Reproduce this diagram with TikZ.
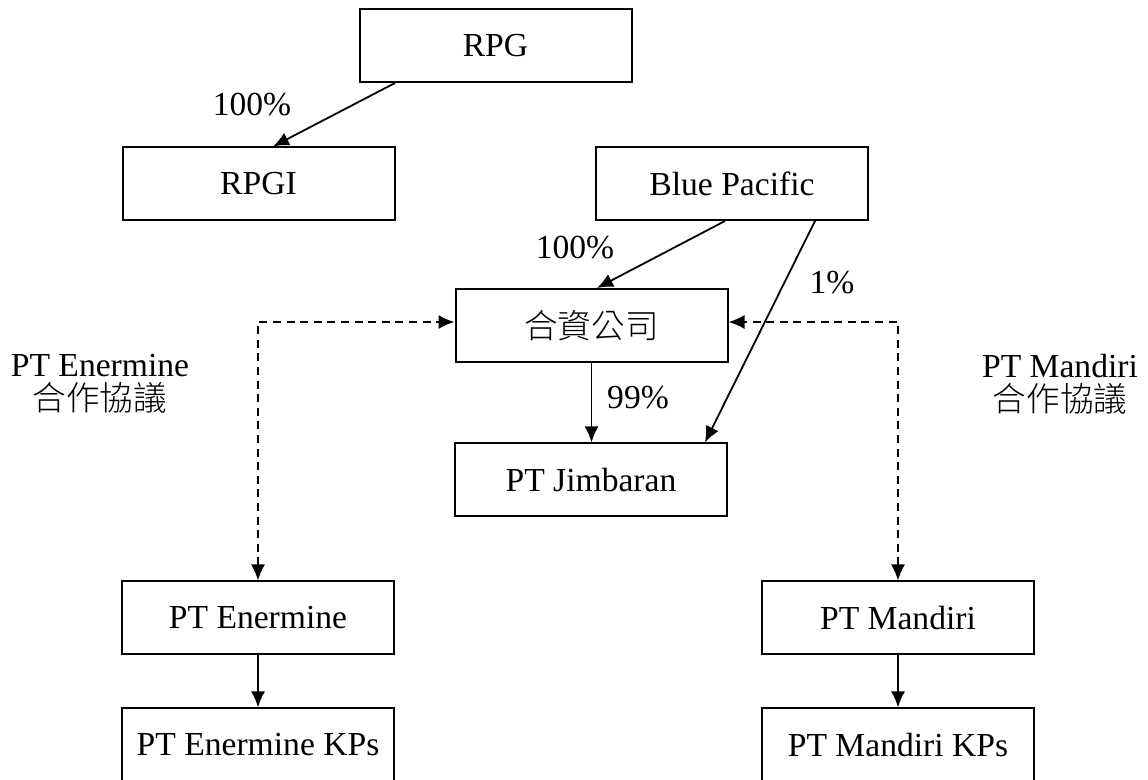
\documentclass[tikz,border=0pt]{standalone}
\usepackage{fontspec}
\setmainfont{Liberation Serif}
\newfontfamily\cjk{Noto Sans CJK TC Light}
\usetikzlibrary{arrows.meta,calc}

\begin{document}
\begin{tikzpicture}[x=0.5pt,y=-0.5pt,
   every node/.style={font=\fontsize{16.8}{17}\selectfont},
   entity/.style={draw,line width=1pt,minimum width=136pt,minimum height=36.5pt,inner sep=0pt},
   own/.style={-{Latex[length=8pt,width=7pt]},line width=0.9pt},
   pact/.style={{Latex[length=8pt,width=7pt]}-{Latex[length=8pt,width=7pt]},
      line width=0.9pt,dash pattern=on 4pt off 2.8pt}]

\useasboundingbox (0,0) rectangle (1148,780);

% companies
\node[entity] (rpg) at (495.5,45.5) {RPG};
\node[entity] (rpgi) at (258.5,184) {RPGI};
\node[entity] (bp) at (732,183.5) {Blue Pacific};
\node[entity] (jv) at (591.5,325.5) {\cjk 合資公司};
\node[entity] (jim) at (591,480) {PT Jimbaran};
\node[entity] (ener) at (258,618) {PT Enermine};
\node[entity] (enerkp) at (258,745) {PT Enermine KPs};
\node[entity] (mand) at (898,618) {PT Mandiri};
\node[entity] (mandkp) at (898,745) {PT Mandiri KPs};

% shares
\node (rpgshare) at (252,105) {100\%};
\node (bpshare) at (575,248) {100\%};
\node (bpjimshare) at (832,283) {1\%};
\node (jvshare) at (638,398) {99\%};
\node[align=center] (enerpact) at (100,384) {PT Enermine\\{\cjk 合作協議}};
\node[align=center] (mandpact) at (1060,384) {PT Mandiri\\{\cjk 合作協議}};

\draw[own] ($(rpg.south)+(-100.5,0)$) -- ($(rpgi.north)+(14.5,0)$);
\draw[own] ($(bp.south)+(-7,0)$) -- ($(jv.north)+(5.5,0)$);
\draw[own] ($(bp.south)+(83,0)$) -- ($(jim.north)+(114,0)$);
\draw[own] (jv.south) -- (jv.south |- jim.north);
\draw[pact] (ener.north) |- ($(jv.west)+(0,-3.5)$);
\draw[pact] (mand.north) |- ($(jv.east)+(0,-3.5)$);
\draw[own] (ener) -- (enerkp);
\draw[own] (mand) -- (mandkp);

\end{tikzpicture}
\end{document}
